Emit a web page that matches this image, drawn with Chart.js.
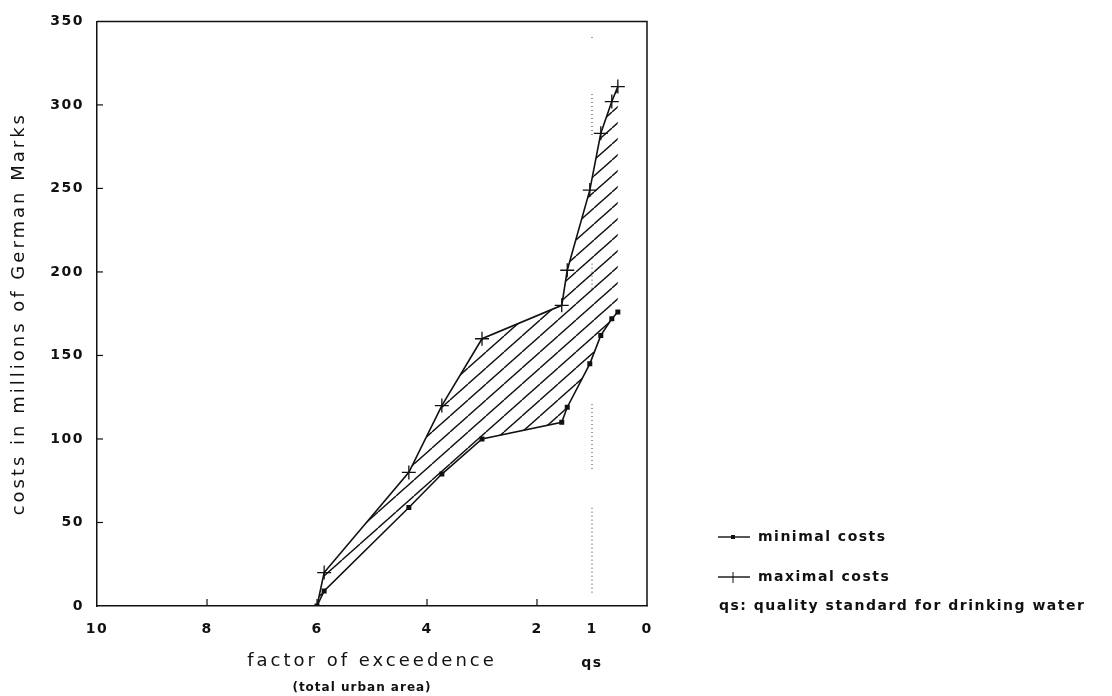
<!DOCTYPE html>
<html>
<head>
<meta charset="utf-8">
<title>costs vs factor of exceedence</title>
<script src="https://cdn.jsdelivr.net/npm/chart.js@4.4.1/dist/chart.umd.min.js"></script>
<style>
    html, body { margin: 0; padding: 0; background: #fff; }
    #wrap { width: 1112px; height: 696px; position: relative; }
</style>
</head>
<body>
<div id="wrap"><canvas id="costChart"></canvas></div>
<script>
// values (x = factor of exceedence, y = million DM)
const factors = [6.0, 5.87, 4.33, 3.73, 3.0, 1.55, 1.45, 1.04, 0.84, 0.64, 0.53];
const minimalCosts = [0, 9, 59, 79, 100, 110, 119, 145, 162, 172, 176];
const maximalCosts = [0, 20, 80, 120, 160, 180, 201, 249, 283, 302, 311];

// dotted qs line at factor 1, broken into pieces (null = gap)
const qsFactor = 1;
const qsDots = [8, 60, null, 82, 122, null, 190, 205, null, 282, 307, null, 340, 342];

const xTicks = [10, 8, 6, 4, 2, 1, 0];
const yTicks = [0, 50, 100, 150, 200, 250, 300, 350];

const INK = '#111';

function hatchPattern() {
    const c = document.createElement('canvas');
    c.width = 18;
    c.height = 16;
    const g = c.getContext('2d');
    g.strokeStyle = INK;
    g.lineWidth = 1.4;
    for (let k = -1; k <= 1; k++) {
        g.beginPath();
        g.moveTo(k * 18, 16);
        g.lineTo(k * 18 + 18, 0);
        g.stroke();
    }
    return g.createPattern(c, 'repeat');
}

// frame, inward tick marks, legend and the small caption
const paperPlugin = {
    id: 'paper',
    beforeDraw(chart) {
        // axis titles are drawn before the datasets
        chart.ctx.letterSpacing = '3px';
    },
    afterDatasetsDraw(chart) {
        // tick labels (z: 1) come after the datasets
        chart.ctx.letterSpacing = '1.5px';
    },
    afterDraw(chart) {
        const { ctx, chartArea: a, scales: { x, y } } = chart;
        ctx.save();
        ctx.letterSpacing = '0px';
        ctx.strokeStyle = INK;
        ctx.lineWidth = 1.5;
        ctx.beginPath();
        ctx.moveTo(a.left, a.top);
        ctx.lineTo(a.right, a.top);
        ctx.lineTo(a.right, a.bottom);
        ctx.stroke();

        ctx.lineWidth = 1.2;
        yTicks.slice(1, -1).forEach(v => {
            const py = y.getPixelForValue(v);
            ctx.beginPath();
            ctx.moveTo(a.left, py);
            ctx.lineTo(a.left + 6, py);
            ctx.stroke();
        });
        xTicks.filter(v => v >= 2 && v <= 8).forEach(v => {
            const px = x.getPixelForValue(v);
            ctx.beginPath();
            ctx.moveTo(px, a.bottom);
            ctx.lineTo(px, a.bottom - 7);
            ctx.stroke();
        });

        // caption under the x title
        ctx.fillStyle = INK;
        ctx.font = 'bold 12px "DejaVu Sans"';
        ctx.letterSpacing = '1px';
        ctx.textAlign = 'center';
        ctx.textBaseline = 'middle';
        ctx.fillText('(total urban area)', 362, 688);

        // legend
        const ds = chart.data.datasets;
        const rows = [537, 577];
        ctx.font = 'bold 14px "DejaVu Sans"';
        ctx.letterSpacing = '1.5px';
        ctx.textAlign = 'left';
        [0, 1].forEach((i, r) => {
            const ly = rows[r];
            ctx.lineWidth = 1.4;
            ctx.beginPath();
            ctx.moveTo(718, ly);
            ctx.lineTo(750, ly);
            ctx.stroke();
            if (i === 0) {
                ctx.fillRect(731, ly - 2, 4, 4);
            } else {
                ctx.lineWidth = 1;
                ctx.beginPath();
                ctx.moveTo(733, ly - 5);
                ctx.lineTo(733, ly + 6);
                ctx.stroke();
            }
            ctx.fillText(ds[i].label, 758, ly);
        });
        ctx.fillText('qs: quality standard for drinking water', 719, 606);
        ctx.restore();
    }
};

const ctx = document.getElementById('costChart').getContext('2d');
Chart.defaults.color = INK;
Chart.defaults.font.family = '"DejaVu Sans", sans-serif';

new Chart(ctx, {
    type: 'line',
    data: {
        datasets: [
            {
                label: 'minimal costs',
                data: factors.map((f, i) => ({ x: f, y: minimalCosts[i] })),
                borderColor: INK,
                borderWidth: 1.6,
                pointStyle: 'rect',
                pointRadius: 2.4,
                pointBackgroundColor: INK,
                pointBorderColor: INK,
                fill: false,
                tension: 0
            },
            {
                label: 'maximal costs',
                data: factors.map((f, i) => ({ x: f, y: maximalCosts[i] })),
                borderColor: INK,
                borderWidth: 1.6,
                pointStyle: 'cross',
                pointRadius: c => (c.dataIndex === 0 ? 0 : 7),
                pointBorderColor: INK,
                pointBorderWidth: 1.3,
                backgroundColor: hatchPattern(),
                fill: '-1',
                tension: 0
            },
            {
                label: 'qs',
                data: qsDots.map(v => ({ x: qsFactor, y: v })),
                borderColor: '#333',
                borderWidth: 1,
                borderDash: [1, 3],
                pointRadius: 0,
                fill: false,
                spanGaps: false
            }
        ]
    },
    options: {
        responsive: true,
        maintainAspectRatio: false,
        animation: false,
        layout: { padding: { top: 17, right: 465, left: 0, bottom: 0 } },
        plugins: {
            legend: { display: false },
            tooltip: { enabled: false }
        },
        scales: {
            x: {
                type: 'linear',
                min: 0,
                max: 10,
                reverse: true,
                afterBuildTicks: s => { s.ticks = xTicks.map(v => ({ value: v })); },
                afterFit: s => { s.height = 90; },
                grid: { display: false, drawTicks: false },
                border: { display: true, color: INK, width: 1.5 },
                ticks: {
                    padding: 15,
                    z: 1,
                    font: { size: 14, weight: 'bold' },
                    callback: v => (v === 1 ? ['1', '', 'qs'] : String(v))
                },
                title: {
                    display: true,
                    text: 'factor of exceedence',
                    font: { size: 18 },
                    padding: { bottom: 24 }
                }
            },
            y: {
                min: 0,
                max: 350,
                afterBuildTicks: s => { s.ticks = yTicks.map(v => ({ value: v })); },
                afterFit: s => { s.width = 97; },
                grid: { display: false, drawTicks: false },
                border: { display: true, color: INK, width: 1.5 },
                ticks: {
                    padding: 13,
                    z: 1,
                    font: { size: 14, weight: 'bold' }
                },
                title: {
                    display: true,
                    text: 'costs in millions of German Marks',
                    font: { size: 18 },
                    padding: { top: 9 }
                }
            }
        }
    },
    plugins: [paperPlugin]
});
</script>
</body>
</html>
